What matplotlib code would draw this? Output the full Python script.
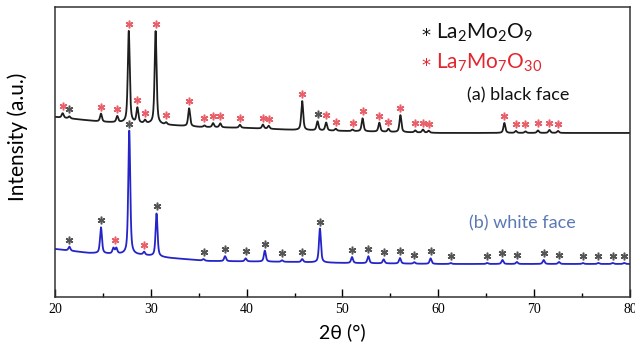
import numpy as np
import matplotlib
matplotlib.use("Agg")
import matplotlib.pyplot as plt

plt.rcParams['mathtext.fontset'] = 'custom'
plt.rcParams['mathtext.rm'] = 'Lato'
plt.rcParams['mathtext.it'] = 'Lato:italic'

# --- data (intensity in arbitrary units) ---
# baseline anchors
black_base_x = [20, 22, 25, 30, 35, 40, 45, 50, 60, 70, 80]
black_base_y = [180.5, 178.5, 175.5, 173.5, 170.5, 169.5, 167.5, 166.5, 164.5, 164.5, 164.5]
blue_base_x = [20, 23.5, 26, 29, 32, 36, 45, 50, 60, 80]
blue_base_y = [48.5, 44.5, 43.5, 42.5, 39.5, 36.5, 35.5, 34.5, 33.5, 33.5]

# (a) black face peaks
black_pos = [20.8, 21.5, 24.8, 26.5, 27.7, 28.6, 29.4, 30.5, 31.6, 34.0, 35.6, 36.5,
             37.25, 39.3, 41.7, 42.3, 45.8, 47.4, 48.3, 49.3, 51.05, 52.1, 53.85, 54.8,
             56.05, 57.6, 58.4, 59.0, 66.9, 68.1, 69.1, 70.4, 71.6, 72.5]
black_height = [4.5, 2, 8, 6, 92, 15, 3, 93, 2, 18, 1.5, 4,
                4, 3, 4, 3, 29, 9, 8, 2, 1.5, 13, 9, 3,
                17, 2, 3, 2, 10, 2, 1.5, 2.5, 3, 2]
black_star_pos = black_pos
black_star_phase = ['r', 'k', 'r', 'r', 'r', 'r', 'r', 'r', 'r', 'r', 'r', 'r',
                    'r', 'r', 'r', 'r', 'r', 'k', 'r', 'r', 'r', 'r', 'r', 'r',
                    'r', 'r', 'r', 'r', 'r', 'r', 'r', 'r', 'r', 'r']

# (b) white face peaks
blue_pos = [21.5, 24.8, 26.1, 26.4, 27.75, 29.3, 30.6, 35.5, 37.75, 39.9, 41.9, 43.7,
            45.8, 47.65, 51.0, 52.7, 54.3, 56.0, 57.5, 59.2, 61.3, 65.1, 66.7, 68.2,
            71.0, 72.6, 75.1, 76.7, 78.2, 79.4]
blue_height = [4, 26, 5.5, 5.5, 124, 3, 43, 1.5, 5, 3, 11, 1.5,
               3, 34, 6, 7, 4, 5.5, 1.5, 5.5, 1, 1, 4, 2,
               4, 2, 1, 1, 1, 1]
blue_star_pos = [21.5, 24.8, 26.3, 27.75, 29.3, 30.6, 35.5, 37.75, 39.9, 41.9, 43.7, 45.8,
                 47.65, 51.0, 52.7, 54.3, 56.0, 57.5, 59.2, 61.3, 65.1, 66.7, 68.2, 71.0,
                 72.6, 75.1, 76.7, 78.2, 79.4]
blue_star_phase = ['k', 'k', 'r', 'k', 'r', 'k', 'k', 'k', 'k', 'k', 'k', 'k',
                   'k', 'k', 'k', 'k', 'k', 'k', 'k', 'k', 'k', 'k', 'k', 'k',
                   'k', 'k', 'k', 'k', 'k']

star_colors = {'k': '#555555', 'r': '#e8606a'}


def pattern(x, base_x, base_y, pos, height, fwhm=0.24, eta=0.6):
    y = np.interp(x, base_x, base_y)
    for p, h in zip(pos, height):
        d = (x - p) / (fwhm / 2)
        lor = 1 / (1 + d ** 2)
        gau = np.exp(-np.log(2) * d ** 2)
        y = y + h * (eta * lor + (1 - eta) * gau)
    return y


x = np.linspace(20, 80, 4001)
y_black = pattern(x, black_base_x, black_base_y, black_pos, black_height)
y_blue = pattern(x, blue_base_x, blue_base_y, blue_pos, blue_height)

fig = plt.figure(figsize=(6.35, 3.47), dpi=100)
ax = fig.add_axes([0.0866, 0.1427, 0.9054, 0.8373])

ax.plot(x, y_blue, color='#2424c8', lw=1.3)
ax.plot(x, y_black, color='#1e1e1e', lw=1.3)


def stars(pos, phase, xs, ys):
    for p, ph in zip(pos, phase):
        m = (xs > p - 0.25) & (xs < p + 0.25)
        ax.plot(p, ys[m].max() + 7, marker=(6, 2, 0), ms=5.5, mew=1.1,
                color=star_colors[ph], ls='none')


stars(black_star_pos, black_star_phase, x, y_black)
stars(blue_star_pos, blue_star_phase, x, y_blue)

ax.set_xlim(20, 80)
ax.set_ylim(0, 290.5)
ax.set_yticks([])
ax.set_xticks(np.arange(20, 81, 10))
ax.set_xticks(np.arange(25, 80, 10), minor=True)
ax.tick_params(axis='x', which='major', direction='in', length=6, width=1, pad=4)
ax.tick_params(axis='x', which='minor', direction='in', length=3, width=1)
for lab in ax.get_xticklabels():
    lab.set_fontfamily('Liberation Serif')
    lab.set_fontsize(10)
for s in ax.spines.values():
    s.set_linewidth(1.1)
    s.set_color('#333333')

ax.set_xlabel('2θ (°)', fontfamily='Lato', fontsize=14, labelpad=5)
ax.set_ylabel('Intensity (a.u.)', fontfamily='Lato', fontsize=15)
ax.yaxis.set_label_coords(-0.047, 0.553)

# legend-like labels
ax.text(58.25, 261.5, '*', fontfamily='DejaVu Sans', fontsize=13,
        color='#111111', va='center')
ax.text(59.8, 264.5, 'La$_2$Mo$_2$O$_9$', fontfamily='Lato', fontsize=15,
        color='#111111', va='center')
ax.text(58.25, 231.5, '*', fontfamily='DejaVu Sans', fontsize=13,
        color='#e3262e', va='center')
ax.text(59.8, 234.5, 'La$_7$Mo$_7$O$_{30}$', fontfamily='Lato', fontsize=15,
        color='#e3262e', va='center')
ax.text(63.0, 202.5, '(a) black face', fontfamily='Lato', fontsize=13,
        color='#111111', va='center')
ax.text(63.2, 74.5, '(b) white face', fontfamily='Lato', fontsize=13,
        color='#5b78b4', va='center')

fig.savefig('out.png', dpi=100)
